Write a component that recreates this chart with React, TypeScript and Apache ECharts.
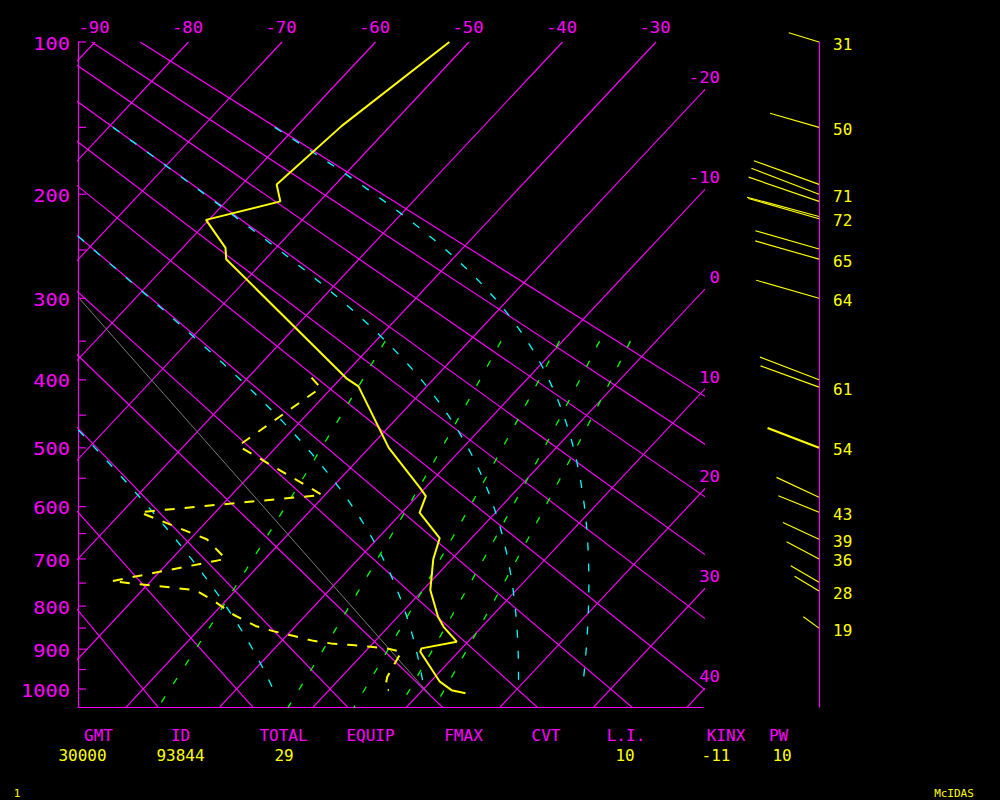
import React, { useEffect, useRef } from "react";
import * as echarts from "echarts";

// ---------------- data ----------------
const ISOTHERMS = [-90, -80, -70, -60, -50, -40, -30, -20, -10, 0, 10, 20, 30, 40];
const TOP_ISO_LABELS = [-90, -80, -70, -60, -50, -40, -30];
const RIGHT_ISO_LABELS = [-20, -10, 0, 10, 20, 30, 40];
const DRY_ADIABATS_C = [-20, -10, 0, 10, 20, 30, 40, 50, 60, 70, 80, 90];
const MOIST_ADIABATS_C = [0, 30, 60, 90];
const MIXING_RATIOS = [1, 3, 5, 7, 9];
const PRESSURE_TICKS = [100, 150, 200, 250, 300, 350, 400, 450, 500, 550, 600, 650, 700, 750, 800, 850, 900, 950, 1000];
const PRESSURE_LABELS = [100, 200, 300, 400, 500, 600, 700, 800, 900, 1000];

const TEMP_P = [100, 149, 192, 206, 222, 248, 259, 398, 409, 500, 567, 581, 611, 659, 700, 765, 824, 847, 882, 898, 906, 981, 1003, 1011];
const TEMP_T = [-52.1, -55.2, -56.3, -54.2, -60.3, -55.4, -54.2, -29.4, -27.3, -17.9, -10.5, -9.1, -8.1, -3.4, -2.0, 0.8, 4.3, 5.9, 8.8, 5.7, 5.9, 11.0, 13.1, 14.9];

const DEW_P = [397, 411, 497, 579, 610, 661, 700, 746, 765, 790, 820, 845, 857, 868, 880, 886, 890, 894, 899, 907, 919, 969, 1001, 1003];
const DEW_T = [-33.2, -31.2, -34.2, -20.3, -38.1, -28.2, -24.2, -34.2, -24.3, -21.1, -17.7, -14.3, -11.9, -9.3, -6.6, -4.5, -2.1, 0.1, 2.2, 4.0, 4.1, 4.9, 5.9, 6.4];

// faint grey reference line (end points as pressure / temperature)
const GREY_P = [300, 1016];
const GREY_T = [-66.0, 11.3];

const WIND_P = [100, 150, 192, 200, 206, 219, 221, 249, 259, 300, 400, 410, 500, 583, 610, 661, 700, 748, 767, 850];
const WIND_DIR = [287, 286, 290, 291, 289, 285, 286, 286, 286, 286, 291, 290, 291, 295, 292, 295, 298, 300, 301, 306];
const WIND_SPD = [31, 50, 68, 71, 73, 73, 72, 65, 65, 64, 62, 61, 54, 46, 43, 39, 36, 32, 28, 19];
const WIND_LABELED = [true, true, false, true, false, false, true, false, true, true, false, true, true, false, true, true, true, false, true, true];

const TABLE_HEADERS = ["GMT", "ID", "TOTAL", "EQUIP", "FMAX", "CVT", "L.I.", "KINX", "PW"];
const TABLE_VALUES = ["30000", "93844", "29", "", "", "", "10", "-11", "10"];

// ---------------- diagram geometry ----------------
const KAPPA = 0.286;
const Yof = (p: number) => Math.pow(p, KAPPA);
const PX_PER_Y = 186;
const PX_PER_C = 9.35;
const SKEW = PX_PER_Y / (PX_PER_C * 1.067);
const GRID_L = 78, GRID_T = 42, GRID_W = 625, GRID_H = 665;
const Y_MIN = Yof(100);
const Y_MAX = Y_MIN + GRID_H / PX_PER_Y;
const X_MIN = -30 - (656 - GRID_L) / PX_PER_C;
const X_MAX = X_MIN + GRID_W / PX_PER_C;
const skewX = (T: number, p: number) => T - SKEW * (Yof(p) - Y_MIN);

const MAG = "#ff00ff", YEL = "#ffff00", CYAN = "#00ffff", GREEN = "#00ff00", GREY = "#7a7a7a";
const MONO = "'DejaVu Sans Mono', 'Liberation Mono', monospace";

function satThetaE(Tk: number, p: number) {
  const Tc = Tk - 273.15;
  const es = 6.112 * Math.exp((17.67 * Tc) / (Tc + 243.5));
  const rs = (0.622 * es) / (p - es);
  return Tk * Math.pow(1000 / p, KAPPA) * Math.exp((2.5e6 * rs) / (1004 * Tk));
}
function moistT(thetaE: number, p: number) {
  let lo = 140, hi = 310;
  for (let i = 0; i < 60; i++) {
    const mid = (lo + hi) / 2;
    if (satThetaE(mid, p) > thetaE) hi = mid; else lo = mid;
  }
  return (lo + hi) / 2 - 273.15;
}
function mixT(r: number, p: number) {
  const w = r / 1000;
  const es = (w * p) / (0.622 + w);
  const x = Math.log(es / 6.112);
  return (243.5 * x) / (17.67 - x);
}
const range = (a: number, b: number, st: number) => {
  const out: number[] = [];
  for (let v = a; v <= b + 1e-9; v += st) out.push(v);
  return out;
};

function lineSeries(data: number[][], color: string, width: number, type: any, z = 2) {
  return {
    type: "line",
    xAxisIndex: 0,
    yAxisIndex: 0,
    data,
    symbol: "none",
    silent: true,
    clip: true,
    z,
    lineStyle: { color, width, type },
  };
}

function buildOption() {
  const series: any[] = [];
  // isotherms
  ISOTHERMS.forEach((T) => {
    series.push(lineSeries([100, 1060].map((p) => [skewX(T, p), Yof(p)]), MAG, 1.15, "solid", 1));
  });
  // dry adiabats
  DRY_ADIABATS_C.forEach((thC) => {
    const th = thC + 273.15;
    series.push(
      lineSeries(
        [100, 1060].map((p) => [skewX(th * Math.pow(p / 1000, KAPPA) - 273.15, p), Yof(p)]),
        MAG, 1.15, "solid", 1
      )
    );
  });
  // grey line
  series.push(lineSeries(GREY_P.map((p, i) => [skewX(GREY_T[i], p), Yof(p)]), GREY, 1, "solid", 1));
  // moist adiabats
  MOIST_ADIABATS_C.forEach((teC) => {
    const te = teC + 273.15;
    series.push(
      lineSeries(range(150, 1000, 10).map((p) => [skewX(moistT(te, p), p), Yof(p)]), CYAN, 1.3, [8, 13], 2)
    );
  });
  // mixing ratio lines
  MIXING_RATIOS.forEach((r) => {
    series.push(
      lineSeries(range(350, 1060, 10).map((p) => [skewX(mixT(r, p), p), Yof(p)]), GREEN, 1.3, [7, 15], 2)
    );
  });
  // dewpoint & temperature
  series.push(lineSeries(DEW_P.map((p, i) => [skewX(DEW_T[i], p), Yof(p)]), YEL, 2, [10, 10], 5));
  series.push(lineSeries(TEMP_P.map((p, i) => [skewX(TEMP_T[i], p), Yof(p)]), YEL, 2, "solid", 6));

  // pressure ticks
  series.push({
    type: "custom",
    coordinateSystem: "cartesian2d",
    xAxisIndex: 0,
    yAxisIndex: 0,
    silent: true,
    z: 7,
    data: PRESSURE_TICKS.map((p) => [X_MIN, Yof(p)]),
    renderItem: (_params: any, api: any) => {
      const pt = api.coord([api.value(0), api.value(1)]);
      return {
        type: "line",
        shape: { x1: pt[0], y1: pt[1], x2: pt[0] + 8, y2: pt[1] },
        style: { stroke: MAG, lineWidth: 1.15 },
      };
    },
  });
  // pressure labels
  series.push({
    type: "custom",
    coordinateSystem: "cartesian2d",
    xAxisIndex: 0,
    yAxisIndex: 0,
    silent: true,
    z: 7,
    data: PRESSURE_LABELS.map((p) => [X_MIN, Yof(p), p]),
    renderItem: (_params: any, api: any) => {
      const pt = api.coord([api.value(0), api.value(1)]);
      return {
        type: "text",
        x: pt[0] - 8,
        y: pt[1] + 1.5,
        scaleX: 1.13,
        style: {
          text: String(api.value(2)),
          fill: MAG,
          fontSize: 18,
          fontFamily: MONO,
          textAlign: "right",
          textVerticalAlign: "middle",
          align: "right",
          verticalAlign: "middle",
        },
      };
    },
  });
  // top isotherm labels
  series.push({
    type: "custom",
    coordinateSystem: "cartesian2d",
    xAxisIndex: 0,
    yAxisIndex: 0,
    silent: true,
    z: 7,
    data: TOP_ISO_LABELS.map((T) => [skewX(T, 100), Y_MIN, T]),
    renderItem: (_params: any, api: any) => {
      const pt = api.coord([api.value(0), api.value(1)]);
      return {
        type: "text",
        x: pt[0] - 1,
        y: pt[1] - 14.5,
        scaleX: 1.08,
        style: {
          text: String(api.value(2)),
          fill: MAG,
          fontSize: 16,
          fontFamily: MONO,
          textAlign: "center",
          textVerticalAlign: "middle",
          align: "center",
          verticalAlign: "middle",
        },
      };
    },
  });
  // right isotherm labels
  series.push({
    type: "custom",
    coordinateSystem: "cartesian2d",
    xAxisIndex: 0,
    yAxisIndex: 0,
    silent: true,
    z: 7,
    data: RIGHT_ISO_LABELS.map((T) => [X_MAX, Y_MIN + (T - X_MAX) / SKEW, T]),
    renderItem: (_params: any, api: any) => {
      const pt = api.coord([api.value(0), api.value(1)]);
      return {
        type: "text",
        x: pt[0] + 17,
        y: pt[1] - 13.5,
        scaleX: 1.08,
        style: {
          text: String(api.value(2)),
          fill: MAG,
          fontSize: 16,
          fontFamily: MONO,
          textAlign: "right",
          textVerticalAlign: "middle",
          align: "right",
          verticalAlign: "middle",
        },
      };
    },
  });
  // winds
  series.push({
    type: "custom",
    coordinateSystem: "cartesian2d",
    xAxisIndex: 1,
    yAxisIndex: 1,
    silent: true,
    z: 7,
    data: WIND_P.map((p, i) => [0, Yof(p), WIND_DIR[i], WIND_SPD[i], WIND_LABELED[i] ? 1 : 0, p]),
    renderItem: (_params: any, api: any) => {
      const base = api.coord([api.value(0), api.value(1)]);
      const dir = (api.value(2) * Math.PI) / 180;
      const spd = api.value(3);
      const len = spd * 1.02;
      const ex = base[0] + len * Math.sin(dir);
      const ey = base[1] - len * Math.cos(dir);
      const children: any[] = [
        {
          type: "line",
          shape: { x1: base[0], y1: base[1], x2: ex, y2: ey },
          style: { stroke: YEL, lineWidth: api.value(5) === 500 ? 2.2 : 1.15 },
        },
      ];
      if (api.value(4) === 1) {
        children.push({
          type: "text",
          x: base[0] + 14,
          y: base[1] + 2,
          style: {
            text: String(spd),
            fill: YEL,
            fontSize: 16,
            fontFamily: MONO,
            textAlign: "left",
            textVerticalAlign: "middle",
            align: "left",
            verticalAlign: "middle",
          },
        });
      }
      return { type: "group", children };
    },
  });

  const headerX = [98.5, 180.5, 283.5, 370.5, 463.5, 546, 626, 726, 778.5];
  const valueX = [82.5, 180.5, 284, 0, 0, 0, 625, 716, 782];
  const graphic: any[] = [];
  TABLE_HEADERS.forEach((h, i) => {
    graphic.push({
      type: "text",
      x: headerX[i],
      y: 735,
      silent: true,
      style: { text: h, fill: MAG, fontSize: 16, fontFamily: MONO, textAlign: "center", textVerticalAlign: "middle" },
    });
  });
  TABLE_VALUES.forEach((v, i) => {
    if (!v) return;
    graphic.push({
      type: "text",
      x: valueX[i],
      y: 755,
      silent: true,
      style: { text: v, fill: YEL, fontSize: 16, fontFamily: MONO, textAlign: "center", textVerticalAlign: "middle" },
    });
  });
  graphic.push({
    type: "text",
    x: 17,
    y: 793,
    silent: true,
    style: { text: "1", fill: YEL, fontSize: 11, fontFamily: MONO, textAlign: "center", textVerticalAlign: "middle" },
  });
  graphic.push({
    type: "text",
    x: 954,
    y: 793,
    silent: true,
    style: { text: "McIDAS", fill: YEL, fontSize: 11, fontFamily: MONO, textAlign: "center", textVerticalAlign: "middle" },
  });

  const hiddenAxisParts = {
    axisTick: { show: false },
    axisLabel: { show: false },
    splitLine: { show: false },
  };

  return {
    animation: false,
    backgroundColor: "#000000",
    grid: [
      { left: GRID_L, top: GRID_T, width: GRID_W, height: GRID_H },
      { left: 819, top: GRID_T, width: 100, height: GRID_H },
    ],
    xAxis: [
      {
        type: "value",
        gridIndex: 0,
        min: X_MIN,
        max: X_MAX,
        axisLine: { show: true, onZero: false, lineStyle: { color: MAG, width: 1.15 } },
        ...hiddenAxisParts,
      },
      { type: "value", gridIndex: 1, min: 0, max: 1, show: false },
    ],
    yAxis: [
      {
        type: "value",
        gridIndex: 0,
        min: Y_MIN,
        max: Y_MAX,
        inverse: true,
        axisLine: { show: true, onZero: false, lineStyle: { color: MAG, width: 1.15 } },
        ...hiddenAxisParts,
      },
      {
        type: "value",
        gridIndex: 1,
        min: Y_MIN,
        max: Y_MAX,
        inverse: true,
        axisLine: { show: true, onZero: false, lineStyle: { color: MAG, width: 1.15 } },
        ...hiddenAxisParts,
      },
    ],
    series,
    graphic,
  };
}

export default function App() {
  const ref = useRef<HTMLDivElement>(null);
  useEffect(() => {
    if (!ref.current) return;
    const chart = echarts.init(ref.current, null, { renderer: "svg" });
    chart.setOption(buildOption() as any);
    return () => chart.dispose();
  }, []);
  return (
    <div
      ref={ref}
      style={{ position: "fixed", left: 0, top: 0, width: 1000, height: 800, background: "#000" }}
    />
  );
}
